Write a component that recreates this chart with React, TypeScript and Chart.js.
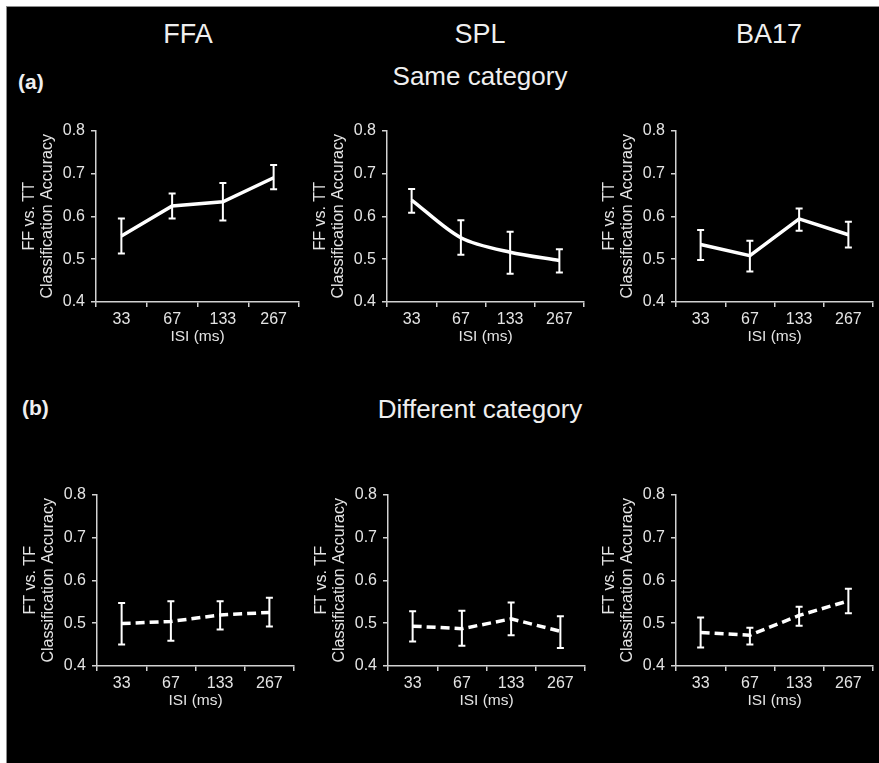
import React, { useEffect, useRef } from "react";
import { Chart, registerables } from "chart.js";

Chart.register(...registerables);

// ---------- data ----------
const isiLabels = ["33", "67", "133", "267"];
const yTickValues = [0.4, 0.5, 0.6, 0.7, 0.8];
const regionNames = ["FFA", "SPL", "BA17"];

// (a) Same category: FF vs. TT
const ffaSameMean = [0.554, 0.624, 0.634, 0.69];
const ffaSameLow = [0.513, 0.595, 0.59, 0.663];
const ffaSameHigh = [0.595, 0.653, 0.678, 0.72];

const splSameMean = [0.638, 0.55, 0.516, 0.497];
const splSameLow = [0.608, 0.51, 0.466, 0.469];
const splSameHigh = [0.664, 0.591, 0.564, 0.523];

const ba17SameMean = [0.534, 0.508, 0.594, 0.557];
const ba17SameLow = [0.498, 0.471, 0.566, 0.527];
const ba17SameHigh = [0.568, 0.543, 0.618, 0.587];

// (b) Different category: FT vs. TF
const ffaDiffMean = [0.499, 0.504, 0.519, 0.525];
const ffaDiffLow = [0.45, 0.459, 0.485, 0.492];
const ffaDiffHigh = [0.547, 0.551, 0.551, 0.559];

const splDiffMean = [0.493, 0.487, 0.51, 0.481];
const splDiffLow = [0.457, 0.447, 0.472, 0.442];
const splDiffHigh = [0.528, 0.529, 0.548, 0.516];

const ba17DiffMean = [0.478, 0.472, 0.518, 0.552];
const ba17DiffLow = [0.443, 0.45, 0.494, 0.523];
const ba17DiffHigh = [0.513, 0.489, 0.538, 0.58];

// ---------- style / layout ----------
const FONT = "'Liberation Sans', Arial, Helvetica, sans-serif";
const TEXT = "#e4e4e4";
const AXIS = "#d2d2d2";
const Y_AXIS_W = 90;
const X_AXIS_H = 50;
const PAD_TOP = 12;
const PAD_RIGHT = 12;
const PLOT_H = 175;

type Panel = {
  left: number;
  top: number;
  width: number;
  mean: number[];
  low: number[];
  high: number[];
  yLine1: string;
  dashed: boolean;
  tension: number;
};

const panels: Panel[] = [
  { left: 96, top: 127, width: 203, mean: ffaSameMean, low: ffaSameLow, high: ffaSameHigh, yLine1: "FF vs. TT", dashed: false, tension: 0 },
  { left: 387, top: 127, width: 197, mean: splSameMean, low: splSameLow, high: splSameHigh, yLine1: "FF vs. TT", dashed: false, tension: 0.3 },
  { left: 676, top: 127, width: 197, mean: ba17SameMean, low: ba17SameLow, high: ba17SameHigh, yLine1: "FF vs. TT", dashed: false, tension: 0 },
  { left: 97, top: 491, width: 197, mean: ffaDiffMean, low: ffaDiffLow, high: ffaDiffHigh, yLine1: "FT vs. TF", dashed: true, tension: 0 },
  { left: 388, top: 491, width: 197, mean: splDiffMean, low: splDiffLow, high: splDiffHigh, yLine1: "FT vs. TF", dashed: true, tension: 0 },
  { left: 676, top: 491, width: 197, mean: ba17DiffMean, low: ba17DiffLow, high: ba17DiffHigh, yLine1: "FT vs. TF", dashed: true, tension: 0 },
];

const errorBarPlugin = {
  id: "errorBars",
  afterDatasetsDraw(chart: any, _args: any, opts: any) {
    const { ctx } = chart;
    const x = chart.scales.x;
    const y = chart.scales.y;
    const low: number[] = opts.low || [];
    const high: number[] = opts.high || [];
    const cap = 3.5;
    ctx.save();
    ctx.strokeStyle = "#ffffff";
    ctx.lineWidth = 2;
    ctx.lineCap = "butt";
    low.forEach((lo, i) => {
      const px = x.getPixelForValue(i);
      const pLo = y.getPixelForValue(lo);
      const pHi = y.getPixelForValue(high[i]);
      ctx.beginPath();
      ctx.moveTo(px, pLo);
      ctx.lineTo(px, pHi);
      ctx.moveTo(px - cap, pLo);
      ctx.lineTo(px + cap, pLo);
      ctx.moveTo(px - cap, pHi);
      ctx.lineTo(px + cap, pHi);
      ctx.stroke();
    });
    ctx.restore();
  },
};

function PanelChart({ p }: { p: Panel }) {
  const ref = useRef<HTMLCanvasElement | null>(null);
  useEffect(() => {
    if (!ref.current) return;
    const chart = new Chart(ref.current, {
      type: "line",
      data: {
        labels: isiLabels,
        datasets: [
          {
            data: p.mean,
            borderColor: "#ffffff",
            borderWidth: 3.5,
            borderDash: p.dashed ? [9, 5] : [],
            pointRadius: 0,
            tension: p.tension,
            fill: false,
          },
        ],
      },
      options: {
        animation: false,
        responsive: false,
        devicePixelRatio: 1,
        events: [],
        layout: { padding: { top: PAD_TOP, right: PAD_RIGHT, left: 0, bottom: 0 } },
        plugins: {
          legend: { display: false },
          tooltip: { enabled: false },
          title: { display: false },
          errorBars: { low: p.low, high: p.high },
        } as any,
        scales: {
          x: {
            type: "category",
            offset: true,
            grid: { offset: true, drawOnChartArea: false, drawTicks: true, tickLength: 5, color: AXIS, lineWidth: 1.5 },
            border: { display: true, color: AXIS, width: 1.5 },
            ticks: { color: TEXT, font: { size: 16, family: FONT }, padding: 3, maxRotation: 0, autoSkip: false },
            title: {
              display: true,
              text: "ISI (ms)",
              color: TEXT,
              font: { size: 15.5, family: FONT, lineHeight: 1.2 },
              padding: { top: 0, bottom: 6 },
            },
            afterFit: (s: any) => {
              s.height = X_AXIS_H;
            },
          },
          y: {
            type: "linear",
            min: 0.4,
            max: 0.8,
            afterBuildTicks: (s: any) => {
              s.ticks = yTickValues.map((v) => ({ value: v }));
            },
            grid: { drawOnChartArea: false, drawTicks: true, tickLength: 5, color: AXIS, lineWidth: 1.5 },
            border: { display: true, color: AXIS, width: 1.5 },
            ticks: {
              color: TEXT,
              font: { size: 16, family: FONT },
              padding: 6,
              callback: (v: any) => Number(v).toFixed(1),
            },
            title: {
              display: true,
              text: [p.yLine1, "Classification Accuracy"],
              color: TEXT,
              font: { size: 16, family: FONT, lineHeight: 1.125 },
              padding: { top: 15, bottom: 0 },
            },
            afterFit: (s: any) => {
              s.width = Y_AXIS_W;
            },
          },
        },
      } as any,
      plugins: [errorBarPlugin as any],
    });
    return () => chart.destroy();
  }, [p]);

  const w = Y_AXIS_W + p.width + PAD_RIGHT;
  const h = PAD_TOP + PLOT_H + X_AXIS_H;
  return (
    <canvas
      ref={ref}
      width={w}
      height={h}
      style={{ position: "absolute", left: p.left - Y_AXIS_W, top: p.top - PAD_TOP, width: w, height: h }}
    />
  );
}

const headerStyle = (cx: number, cy: number, size: number, bold = false): React.CSSProperties => ({
  position: "absolute",
  left: cx,
  top: cy,
  transform: "translate(-50%, -50%)",
  fontFamily: FONT,
  fontSize: size,
  lineHeight: 1,
  fontWeight: bold ? 700 : 400,
  color: "#efefef",
  whiteSpace: "nowrap",
});

const headerX = [188, 480, 769];

export default function App() {
  return (
    <div style={{ position: "absolute", left: 0, top: 0, width: 879, height: 763, background: "#ffffff", overflow: "hidden" }}>
      <div
        style={{
          position: "absolute",
          left: 6,
          top: 6,
          width: 873,
          height: 757,
          background: "#000000",
          borderLeft: "1px solid #8c8c8c",
          borderTop: "1px solid #8c8c8c",
          boxSizing: "border-box",
        }}
      />
      {regionNames.map((n, i) => (
        <div key={n} style={headerStyle(headerX[i], 34, 27)}>
          {n}
        </div>
      ))}
      <div style={{ ...headerStyle(0, 81, 21, true), transform: "translate(0, -50%)", left: 18 }}>(a)</div>
      <div style={headerStyle(480, 76, 26)}>Same category</div>
      <div style={{ ...headerStyle(0, 407, 21, true), transform: "translate(0, -50%)", left: 22 }}>(b)</div>
      <div style={headerStyle(480, 409, 26)}>Different category</div>
      {panels.map((p, i) => (
        <PanelChart key={i} p={p} />
      ))}
    </div>
  );
}
